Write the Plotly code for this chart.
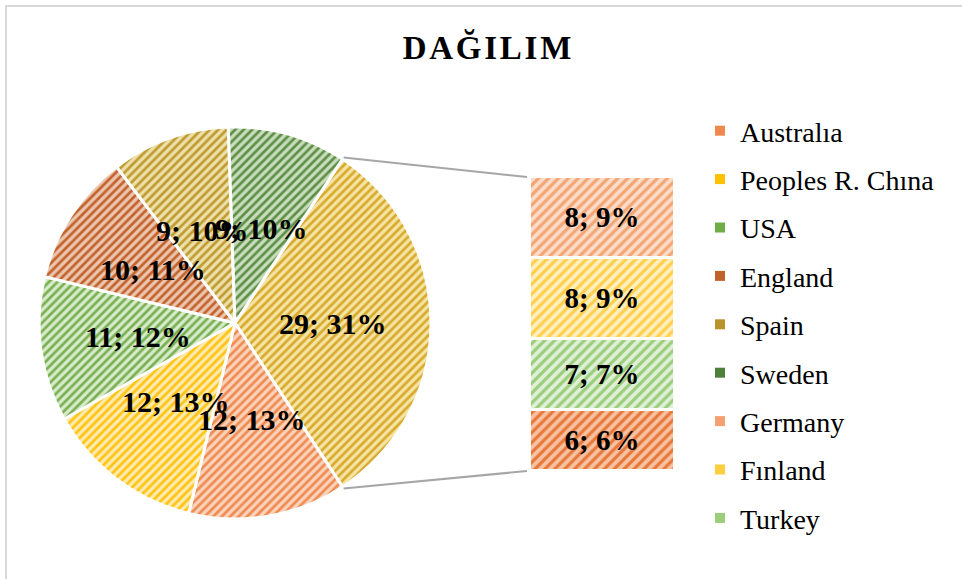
import math
import plotly.graph_objects as go

# ---------------- data ----------------
pie_labels = ["Other", "Australıa", "Peoples R. Chına", "USA", "England", "Spain", "Sweden"]
pie_values = [29, 12, 12, 11, 10, 9, 9]
pie_pct = [31, 13, 13, 12, 11, 10, 10]

bar_labels = ["Other country", "Turkey", "Fınland", "Germany"]   # bottom -> top
bar_values = [6, 7, 8, 8]
bar_pct = [6, 7, 9, 9]

legend_labels = ["Australıa", "Peoples R. Chına", "USA", "England", "Spain",
                 "Sweden", "Germany", "Fınland", "Turkey"]

# ---------------- styles ----------------
pie_fg = ["#D6AA2C", "#EF8A50", "#FFC312", "#79B052", "#C3622C", "#BF9B30", "#5E8F46"]
pie_bg = ["#F6E4A4", "#FAD3BB", "#FFEBB0", "#D8EBCB", "#EBC6AE", "#EEE0AA", "#C9DDBD"]
bar_fg = ["#E8773A", "#9ACD7C", "#FFCF4A", "#F4A574"]
bar_bg = ["#F6C2A2", "#E0F0D6", "#FFEFC0", "#FBDCC8"]
legend_colors = ["#EE8A4E", "#FFC000", "#70AD47", "#C0622A", "#B8942A",
                 "#4F7F3A", "#F4A070", "#FFCF40", "#9ACD7C"]

W, H = 962, 579
FONT = "Liberation Serif"

# pie geometry (pixels)
pie_left, pie_top, pie_size = 39, 127, 392
cx, cy = pie_left + pie_size / 2, pie_top + pie_size / 2
R = pie_size / 2
total = sum(pie_values)
rotation = 90 - pie_values[0] / total * 180

# bar geometry (pixels)
bar_l, bar_r, bar_t, bar_b = 530, 675, 177, 471

fig = go.Figure()

fig.add_trace(go.Pie(
    labels=pie_labels, values=pie_values, sort=False, direction="clockwise",
    rotation=rotation, textinfo="none", hoverinfo="label+value",
    domain=dict(x=[pie_left / W, (pie_left + pie_size) / W],
                y=[1 - (pie_top + pie_size) / H, 1 - pie_top / H]),
    marker=dict(colors=pie_bg, line=dict(color="white", width=3),
                pattern=dict(shape="/", fgcolor=pie_fg, bgcolor=pie_bg,
                             size=6, solidity=0.45, fillmode="replace")),
    showlegend=False,
))

for lab, v, p, fg, bg in zip(bar_labels, bar_values, bar_pct, bar_fg, bar_bg):
    fig.add_trace(go.Bar(
        x=["o"], y=[v], name=lab, xaxis="x2", yaxis="y2",
        text=[f"<b>{v}; {p}%</b>"], textposition="inside", insidetextanchor="middle",
        textangle=0, textfont=dict(family=FONT, size=29, color="black"),
        marker=dict(color=bg, line=dict(color="white", width=3),
                    pattern=dict(shape="/", fgcolor=fg, bgcolor=bg, size=7,
                                 solidity=0.45, fillmode="replace")),
        showlegend=False, width=1,
    ))

for i, (lab, col) in enumerate(zip(legend_labels, legend_colors)):
    fig.add_trace(go.Scatter(
        x=[None], y=[None], mode="markers", name=lab, legendgroup=f"g{i}",
        marker=dict(symbol="square", size=10, color=col), xaxis="x2", yaxis="y2",
    ))

# pie data labels
annotations = []
cum = 0
for v, p in zip(pie_values, pie_pct):
    th = math.radians(rotation + (cum + v / 2) / total * 360)
    cum += v
    px = cx + 0.5 * R * math.sin(th)
    py = cy - 0.5 * R * math.cos(th)
    annotations.append(dict(x=px / W, y=1 - py / H, xref="paper", yref="paper",
                            xanchor="center", yanchor="middle",
                            text=f"<b>{v}; {p}%</b>", showarrow=False,
                            font=dict(family=FONT, size=30, color="black")))

# connector lines
shapes = []
th0 = math.radians(rotation)
th1 = math.radians(rotation + pie_values[0] / total * 360)
for th, by in [(th0, bar_t), (th1, bar_b)]:
    sx = cx + (R + 2) * math.sin(th)
    sy = cy - (R + 2) * math.cos(th)
    shapes.append(dict(type="line", xref="paper", yref="paper",
                       x0=sx / W, y0=1 - sy / H, x1=(bar_l - 3) / W, y1=1 - by / H,
                       line=dict(color="#A6A6A6", width=2)))
# chart frame
shapes.append(dict(type="rect", xref="paper", yref="paper",
                   x0=6 / W, y0=-0.05, x1=1.05, y1=1 - 6 / H,
                   line=dict(color="#D9D9D9", width=2)))

fig.update_layout(
    width=W, height=H, autosize=False,
    margin=dict(l=0, r=0, t=0, b=0),
    paper_bgcolor="white", plot_bgcolor="white",
    barmode="stack", bargap=0,
    title=dict(text="<b>D\u200aA\u200aĞ\u200aI\u200aL\u200aI\u200aM</b>", x=487 / W, xanchor="center",
               y=1 - 47 / H, yanchor="middle", yref="container",
               font=dict(family=FONT, size=33, color="black")),
    xaxis=dict(visible=False),
    yaxis=dict(visible=False),
    xaxis2=dict(domain=[bar_l / W, bar_r / W], range=[-0.5, 0.5], visible=False,
                anchor="y2", fixedrange=True),
    yaxis2=dict(domain=[1 - bar_b / H, 1 - bar_t / H], range=[0, sum(bar_values)],
                visible=False, anchor="x2", fixedrange=True),
    legend=dict(x=700 / W, xanchor="left", y=1 - 106 / H, yanchor="top",
                font=dict(family=FONT, size=28, color="black"),
                traceorder="grouped", tracegroupgap=9, itemwidth=30,
                bgcolor="rgba(0,0,0,0)"),
    annotations=annotations, shapes=shapes,
)

fig.write_html("out.html", config={"displayModeBar": False},
               post_script="document.body.style.margin='0';")
